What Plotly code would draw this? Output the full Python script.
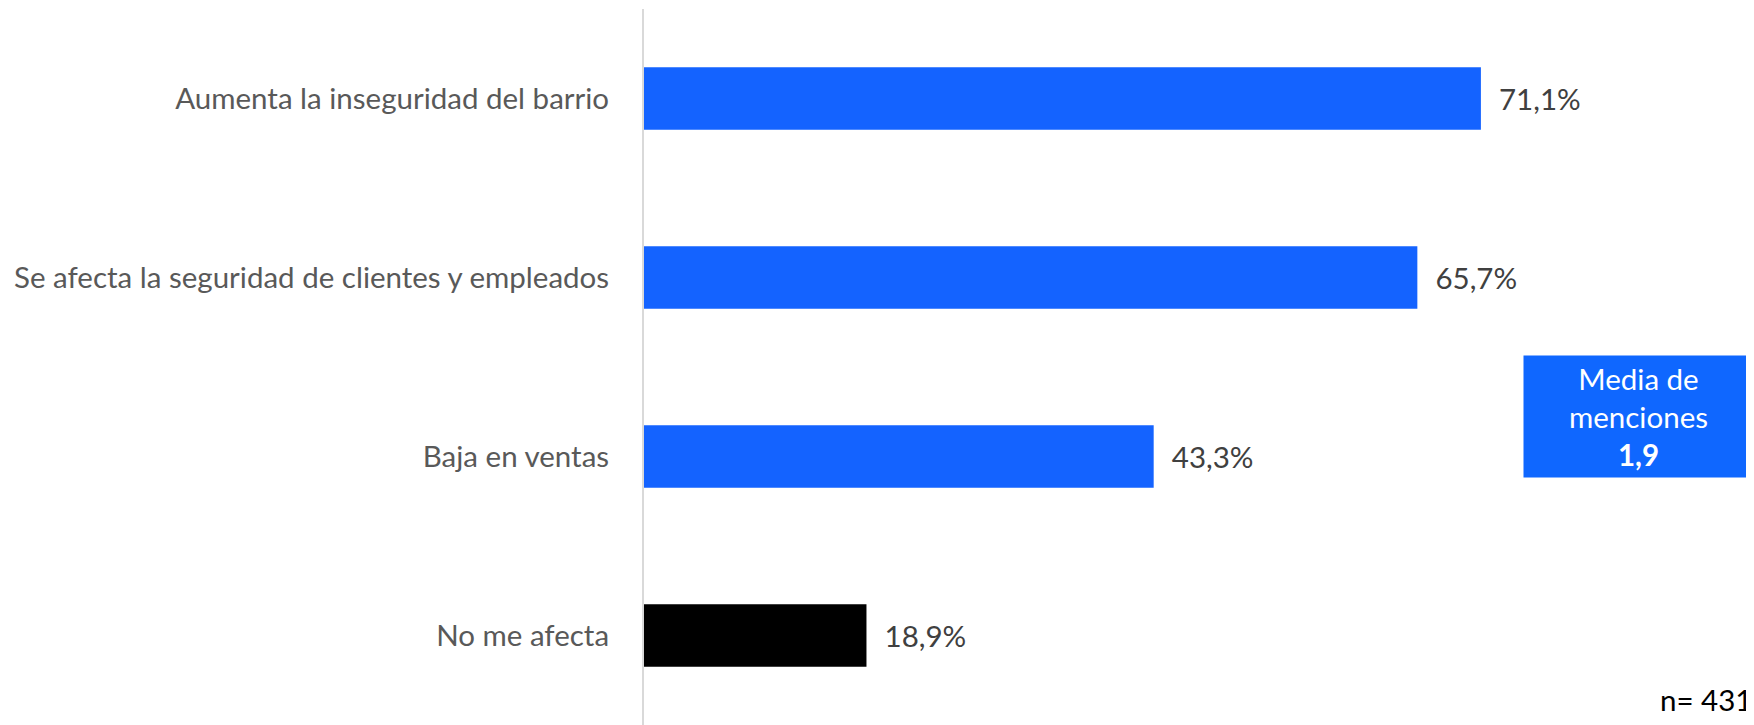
import plotly.graph_objects as go

# datos
categorias = [
    "Aumenta la inseguridad del barrio",
    "Se afecta la seguridad de clientes y empleados",
    "Baja en ventas",
    "No me afecta",
]
porcentajes = [71.1, 65.7, 43.3, 18.9]
colores = ["#1463FF", "#1463FF", "#1463FF", "#000000"]
etiquetas = ["\u00a0\u00a0" + f"{v:.1f}%".replace(".", ",") for v in porcentajes]
media_menciones = "1,9"
n_total = 431

FUENTE = "Lato"
TAM = 29.5

fig = go.Figure()
fig.add_trace(go.Bar(
    y=categorias,
    x=porcentajes,
    orientation="h",
    marker=dict(color=colores, line=dict(width=0)),
    text=etiquetas,
    textposition="outside",
    textfont=dict(family=FUENTE, size=TAM, color="#404040"),
    cliponaxis=False,
    width=0.35,
))

# la pagina tiene 8px de margen en el body, por eso 1746x717
fig.update_layout(
    width=1746,
    height=717,
    margin=dict(l=636, r=0, t=1, b=0),
    plot_bgcolor="white",
    paper_bgcolor="white",
    showlegend=False,
    font=dict(family=FUENTE, size=TAM, color="#595959"),
    xaxis=dict(range=[0, 94.3], visible=False, automargin=False),
    yaxis=dict(
        autorange="reversed",
        automargin=False,
        showline=True,
        linecolor="#D9D9D9",
        linewidth=2,
        showgrid=False,
        ticks="",
        ticklabelstandoff=27,
        tickfont=dict(family=FUENTE, size=TAM, color="#595959"),
    ),
)

# recuadro con la media de menciones
fig.add_annotation(
    xref="paper", yref="paper", x=1, y=0.431,
    xanchor="right", yanchor="middle",
    text=f"Media de<br>menciones<br><b>{media_menciones}</b>",
    showarrow=False,
    font=dict(family=FUENTE, size=TAM, color="white"),
    bgcolor="#0F67FF",
    width=229, height=121,
    borderpad=0,
    align="center",
)

fig.add_annotation(
    xref="paper", yref="paper", x=1, y=0.036,
    xanchor="right", yanchor="middle",
    text=f"n= {n_total}",
    showarrow=False,
    font=dict(family=FUENTE, size=TAM, color="#000000"),
)

fig.write_html("out.html")
